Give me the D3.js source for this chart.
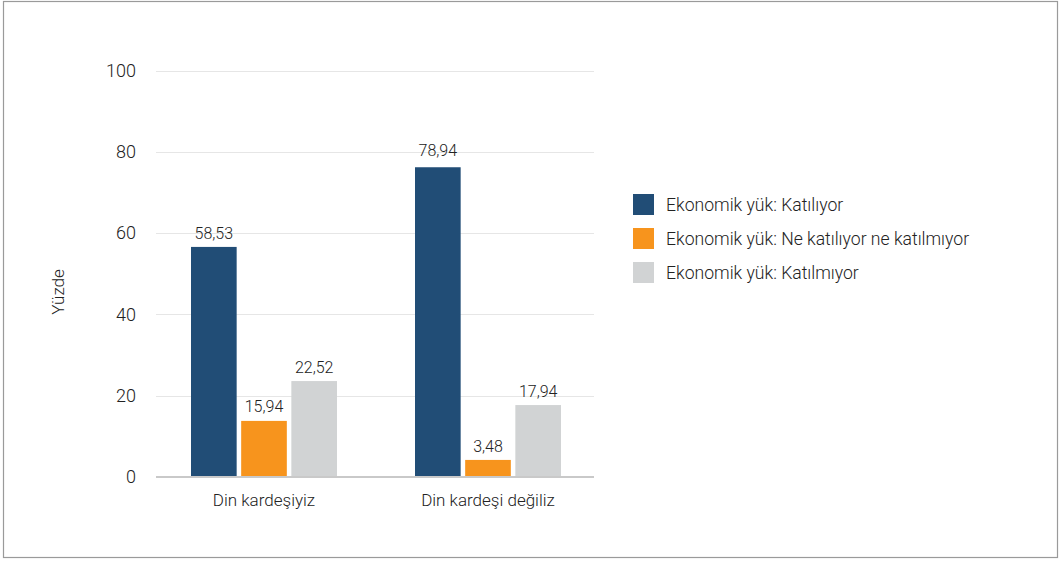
<!DOCTYPE html>
<html>
<head>
<meta charset="utf-8">
<script src="https://cdn.jsdelivr.net/npm/d3@7"></script>
<style>
  body { margin: 0; background: #fff; }
  svg text { font-family: "Roboto", "Liberation Sans", sans-serif; font-weight: 300; fill: #222; }
</style>
</head>
<body>
<svg id="chart" width="1059" height="562"></svg>
<script>
// categories and series
var categories = ['Din kardeşiyiz', 'Din kardeşi değiliz'];
var seriesNames = ['Ekonomik yük: Katılıyor', 'Ekonomik yük: Ne katılıyor ne katılmıyor', 'Ekonomik yük: Katılmıyor'];
// printed values
var labelKatiliyor = [58.53, 78.94];
var labelNotr = [15.94, 3.48];
var labelKatilmiyor = [22.52, 17.94];
// bar heights as drawn in the picture
var barKatiliyor = [56.6, 76.2];
var barNotr = [13.8, 4.2];
var barKatilmiyor = [23.6, 17.7];
var yTicks = [0, 20, 40, 60, 80, 100];

var colours = ['#214d76', '#f7941d', '#d1d3d4'];

var svg = d3.select('#chart');

// outer frame
svg.append('rect')
    .attr('x', 3.5).attr('y', 1.5)
    .attr('width', 1054).attr('height', 556)
    .attr('fill', 'none')
    .attr('stroke', '#9a9a9a')
    .attr('stroke-width', 1.2);

var plotLeft = 156, plotRight = 594, plotTop = 70.5, plotBottom = 477;

var x0 = d3.scaleBand()
    .domain(categories)
    .range([152, 600])
    .paddingInner(0)
    .paddingOuter(0);

var x1 = d3.scaleBand()
    .domain(d3.range(3))
    .range([0, 146])
    .paddingInner(0.09);

var y = d3.scaleLinear()
    .domain([0, 100])
    .range([plotBottom, plotTop]);

// grid
var grid = svg.append('g').attr('class', 'grid');
grid.selectAll('line')
    .data(yTicks.filter(function(d) { return d > 0; }))
    .join('line')
    .attr('x1', plotLeft).attr('x2', plotRight)
    .attr('y1', function(d) { return Math.round(y(d)) + 0.5; })
    .attr('y2', function(d) { return Math.round(y(d)) + 0.5; })
    .attr('stroke', '#e6e6e6')
    .attr('stroke-width', 1);

// y axis labels
var yAxis = svg.append('g')
    .attr('transform', 'translate(' + plotLeft + ',0)')
    .call(d3.axisLeft(y).tickValues(yTicks).tickSize(0).tickPadding(20));
yAxis.select('.domain').remove();
yAxis.selectAll('text')
    .attr('font-size', 18)
    .attr('fill', '#222');

svg.append('text')
    .attr('transform', 'translate(64,' + 292 + ') rotate(-90)')
    .attr('text-anchor', 'middle')
    .attr('font-size', 17)
    .text('Yüzde');

// bars
var barSets = [barKatiliyor, barNotr, barKatilmiyor];
var labelSets = [labelKatiliyor, labelNotr, labelKatilmiyor];
var fmt = function(v) { return d3.format('.2f')(v).replace('.', ','); };

var groups = svg.append('g').selectAll('g')
    .data(categories)
    .join('g')
    .attr('transform', function(d) {
        return 'translate(' + (x0(d) + (x0.bandwidth() - 146) / 2) + ',0)';
    });

groups.each(function(cat, ci) {
    var g = d3.select(this);
    for (var s = 0; s < 3; s++) {
        var v = barSets[s][ci];
        g.append('rect')
            .attr('x', x1(s))
            .attr('y', y(v))
            .attr('width', x1.bandwidth())
            .attr('height', y(0) - y(v))
            .attr('fill', colours[s]);
        var ly = Math.min(y(labelSets[s][ci]), y(v) - 8);
        g.append('text')
            .attr('x', x1(s) + x1.bandwidth() / 2)
            .attr('y', ly)
            .attr('text-anchor', 'middle')
            .attr('font-size', 16)
            .text(fmt(labelSets[s][ci]));
    }
});

// baseline
svg.append('line')
    .attr('x1', plotLeft).attr('x2', plotRight)
    .attr('y1', plotBottom).attr('y2', plotBottom)
    .attr('stroke', '#c9c9c9')
    .attr('stroke-width', 2);

// category labels
svg.append('g').selectAll('text')
    .data(categories)
    .join('text')
    .attr('x', function(d) { return x0(d) + x0.bandwidth() / 2; })
    .attr('y', 506)
    .attr('text-anchor', 'middle')
    .attr('font-size', 17)
    .text(function(d) { return d; });

// legend
var legend = svg.append('g').attr('transform', 'translate(633,194)');
seriesNames.forEach(function(name, i) {
    legend.append('rect')
        .attr('x', 0).attr('y', i * 34)
        .attr('width', 21).attr('height', 21)
        .attr('fill', colours[i]);
    legend.append('text')
        .attr('x', 33).attr('y', i * 34 + 10.5)
        .attr('dominant-baseline', 'central')
        .attr('font-size', 17.6)
        .text(name);
});
</script>
</body>
</html>
